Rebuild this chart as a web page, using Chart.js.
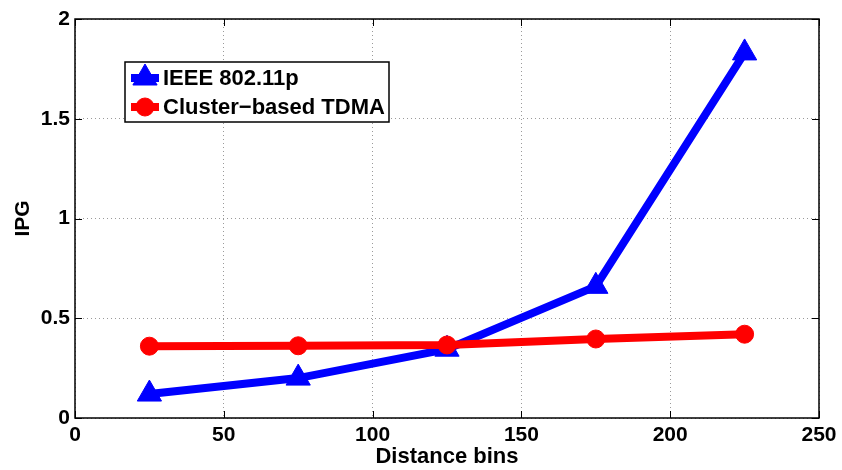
<!DOCTYPE html>
<html>
<head>
<meta charset="utf-8">
<script src="https://cdn.jsdelivr.net/npm/chart.js@4/dist/chart.umd.min.js"></script>
<style>
  html, body { margin: 0; padding: 0; background: #fff; }
  #wrap { width: 842px; height: 470px; }
</style>
</head>
<body>
<div id="wrap"><canvas id="ipgChart"></canvas></div>
<script>
const distanceBins = [25, 75, 125, 175, 225];
const ieeeIpg = [0.12, 0.2, 0.345, 0.66, 1.83];
const tdmaIpg = [0.36, 0.362, 0.366, 0.396, 0.42];
const xTicks = [0, 50, 100, 150, 200, 250];
const yTicks = [0, 0.5, 1, 1.5, 2];

const FONT = '"Liberation Sans", Arial, Helvetica, sans-serif';

// box around the plot, inward tick marks and the legend (MATLAB look)
const matlabFrame = {
    id: 'matlabFrame',
    afterDraw(chart) {
        const ctx = chart.ctx;
        const a = chart.chartArea;
        const xs = chart.scales.x, ys = chart.scales.y;
        ctx.save();
        ctx.strokeStyle = '#000';
        ctx.lineWidth = 1.5;
        ctx.strokeRect(a.left, a.top, a.right - a.left, a.bottom - a.top);
        ctx.lineWidth = 1;
        ctx.beginPath();
        xTicks.forEach(v => {
            const px = Math.round(xs.getPixelForValue(v)) + 0.5;
            ctx.moveTo(px, a.bottom); ctx.lineTo(px, a.bottom - 7);
            ctx.moveTo(px, a.top); ctx.lineTo(px, a.top + 7);
        });
        yTicks.forEach(v => {
            const py = Math.round(ys.getPixelForValue(v)) + 0.5;
            ctx.moveTo(a.left, py); ctx.lineTo(a.left + 7, py);
            ctx.moveTo(a.right, py); ctx.lineTo(a.right - 7, py);
        });
        ctx.stroke();

        // legend
        const lx = 125, ly = 62, lw = 264, lh = 60;
        ctx.fillStyle = '#fff';
        ctx.fillRect(lx, ly, lw, lh);
        ctx.lineWidth = 1.5;
        ctx.strokeStyle = '#000';
        ctx.strokeRect(lx, ly, lw, lh);
        const rows = [78, 107];
        chart.data.datasets.forEach((ds, i) => {
            const y = rows[i];
            ctx.strokeStyle = ds.borderColor;
            ctx.lineWidth = ds.borderWidth;
            ctx.beginPath();
            ctx.moveTo(lx + 6, y); ctx.lineTo(lx + 34, y);
            ctx.stroke();
            ctx.fillStyle = ds.pointBackgroundColor;
            ctx.strokeStyle = ds.pointBorderColor;
            ctx.lineWidth = ds.pointBorderWidth;
            Chart.helpers.drawPoint(ctx, {
                pointStyle: ds.pointStyle,
                radius: ds.pointRadius,
                borderWidth: ds.pointBorderWidth,
                rotation: 0
            }, lx + 20, y);
            ctx.fillStyle = '#000';
            ctx.font = 'bold 22px ' + FONT;
            ctx.textBaseline = 'middle';
            ctx.textAlign = 'left';
            ctx.fillText(ds.label, lx + 38, y + 1);
        });
        ctx.restore();
    }
};

const ctx = document.getElementById('ipgChart').getContext('2d');
new Chart(ctx, {
    type: 'line',
    data: {
        datasets: [
            {
                label: 'IEEE 802.11p',
                data: distanceBins.map((x, i) => ({ x: x, y: ieeeIpg[i] })),
                borderColor: '#0000ff',
                backgroundColor: '#0000ff',
                pointBackgroundColor: '#0000ff',
                pointBorderColor: '#0000ff',
                borderWidth: 8,
                pointStyle: 'triangle',
                pointRadius: 14,
                pointBorderWidth: 1,
                tension: 0,
                order: 2,
            },
            {
                label: 'Cluster\u2212based TDMA',
                data: distanceBins.map((x, i) => ({ x: x, y: tdmaIpg[i] })),
                borderColor: '#ff0000',
                backgroundColor: '#ff0000',
                pointBackgroundColor: '#ff0000',
                pointBorderColor: '#ff0000',
                borderWidth: 8,
                pointStyle: 'circle',
                pointRadius: 9,
                pointBorderWidth: 1,
                tension: 0,
                order: 1,
            },
        ],
    },
    options: {
        responsive: true,
        maintainAspectRatio: false,
        animation: false,
        layout: { padding: { top: 19, right: 23, left: 0, bottom: 0 } },
        plugins: {
            legend: { display: false },
            tooltip: { enabled: false },
        },
        scales: {
            x: {
                type: 'linear',
                min: 0,
                max: 250,
                afterBuildTicks: s => { s.ticks = xTicks.map(v => ({ value: v })); },
                afterFit: s => { s.height = 52; },
                grid: { color: '#9a9a9a', drawTicks: false },
                border: { display: false, dash: [1, 3] },
                ticks: {
                    color: '#000',
                    padding: 5,
                    font: { family: FONT, size: 21, weight: 'bold' },
                    callback: v => String(v),
                },
                title: {
                    display: true,
                    text: 'Distance bins',
                    color: '#000',
                    padding: { top: 0, bottom: 0 },
                    font: { family: FONT, size: 22, weight: 'bold' },
                },
            },
            y: {
                min: 0,
                max: 2,
                afterBuildTicks: s => { s.ticks = yTicks.map(v => ({ value: v })); },
                afterFit: s => { s.width = 75; },
                grid: { color: '#9a9a9a', drawTicks: false },
                border: { display: false, dash: [1, 3] },
                ticks: {
                    color: '#000',
                    padding: 5,
                    font: { family: FONT, size: 21, weight: 'bold' },
                    callback: v => String(v),
                },
                title: {
                    display: true,
                    text: 'IPG',
                    color: '#000',
                    padding: { top: 11, bottom: 0 },
                    font: { family: FONT, size: 21, weight: 'bold' },
                },
            },
        },
    },
    plugins: [matlabFrame],
});
</script>
</body>
</html>
